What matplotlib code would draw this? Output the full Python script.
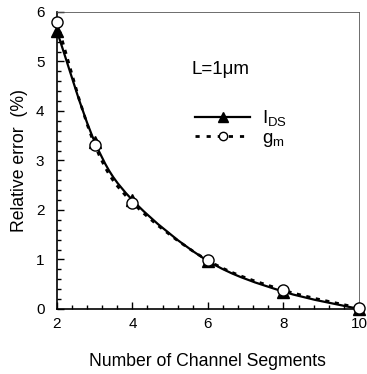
import numpy as np
import matplotlib
matplotlib.use('Agg')
import matplotlib.pyplot as plt
from matplotlib.path import Path
from matplotlib.patches import PathPatch
from matplotlib.lines import Line2D
from matplotlib.ticker import MultipleLocator

plt.rcParams['font.family'] = ['Liberation Sans', 'DejaVu Sans']

segments = [2, 3, 4, 6, 8, 10]
err_ids = [5.62, 3.38, 2.20, 0.97, 0.35, 0.00]
err_gm = [5.80, 3.32, 2.15, 0.98, 0.38, 0.02]


def smooth_path(xs, ys):
    # Excel-style smoothed line: cubic bezier through points (Catmull-Rom)
    xs = np.asarray(xs, float)
    ys = np.asarray(ys, float)
    verts = [(xs[0], ys[0])]
    codes = [Path.MOVETO]
    n = len(xs)
    for i in range(n - 1):
        p0 = (xs[max(i - 1, 0)], ys[max(i - 1, 0)])
        p1 = (xs[i], ys[i])
        p2 = (xs[i + 1], ys[i + 1])
        p3 = (xs[min(i + 2, n - 1)], ys[min(i + 2, n - 1)])
        c1 = (p1[0] + (p2[0] - p0[0]) / 6, p1[1] + (p2[1] - p0[1]) / 6)
        c2 = (p2[0] - (p3[0] - p1[0]) / 6, p2[1] - (p3[1] - p1[1]) / 6)
        verts += [c1, c2, p2]
        codes += [Path.CURVE4] * 3
    return Path(verts, codes)


fig = plt.figure(figsize=(3.67, 3.74), dpi=100)
ax = fig.add_axes([0.155, 0.174, 0.823, 0.794])

ax.add_patch(PathPatch(smooth_path(segments, err_gm), fill=False, lw=2,
                       ls=(0, (1.5, 2)), color='black', zorder=2))
ax.add_patch(PathPatch(smooth_path(segments, err_ids), fill=False, lw=1.6,
                       color='black', zorder=3))
ax.plot(segments, err_ids, ls='none', marker='^', ms=8, color='black', zorder=4,
        clip_on=False)
ax.plot(segments, err_gm, ls='none', marker='o', ms=8, mfc='white', mec='black',
        mew=1, zorder=5, clip_on=False)

ax.set_xlim(2, 10)
ax.set_ylim(0, 6)
ax.xaxis.set_major_locator(MultipleLocator(2))
ax.xaxis.set_minor_locator(MultipleLocator(0.4))
ax.yaxis.set_major_locator(MultipleLocator(1))
ax.yaxis.set_minor_locator(MultipleLocator(0.2))
ax.tick_params(which='both', direction='in', labelsize=11, width=1)
ax.tick_params(which='major', length=5)
ax.tick_params(which='minor', length=3)
ax.tick_params(axis='x', pad=6)
ax.tick_params(axis='y', pad=9)
for side in ['left', 'bottom']:
    ax.spines[side].set_linewidth(1.2)
for side in ['top', 'right']:
    ax.spines[side].set_linewidth(0.6)
    ax.spines[side].set_color('#555555')

ax.set_xlabel('Number of Channel Segments', fontsize=12.7, labelpad=16)
ax.set_ylabel('Relative error  (%)', fontsize=12.7, labelpad=6)

ax.text(0.447, 0.805, 'L=1\u03bcm', transform=ax.transAxes, fontsize=13.5,
        va='center')
handles = [Line2D([], [], color='black', lw=1.6, marker='^', ms=7),
           Line2D([], [], color='black', lw=2, ls=(0, (1.5, 2.5)), marker='o',
                  ms=6, mfc='white', mec='black', mew=1)]
ax.legend(handles, ['I$_{\\mathregular{DS}}$', 'g$_{\\mathregular{m}}$'],
          loc='upper left', bbox_to_anchor=(0.415, 0.72), frameon=False,
          fontsize=13.5, handlelength=2.9, handletextpad=0.65, labelspacing=0.05,
          borderpad=0.2)

fig.savefig('out.png', dpi=100)
